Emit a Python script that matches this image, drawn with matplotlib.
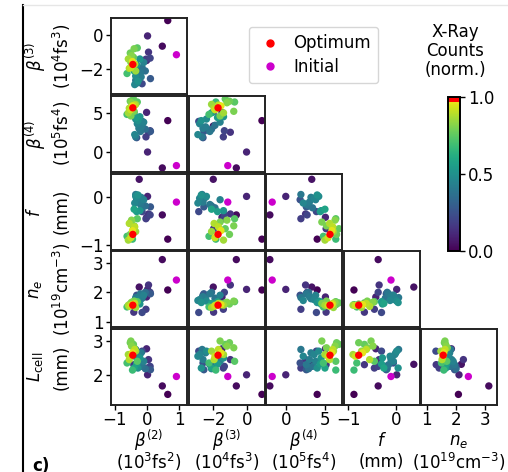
"""
Corner plot of the optimisation scan: X-ray counts over the 6 laser/target parameters
"""
import numpy as np
import matplotlib
matplotlib.use('Agg')
import matplotlib.pyplot as plt
from matplotlib.colors import ListedColormap
from matplotlib.lines import Line2D

# scanned samples (one entry per shot)
beta2 = [-0.45, -0.50, -0.38, -0.55, -0.48, -0.52, -0.40, -0.35, -0.58, -0.42, -0.30, -0.62, -0.45, -0.50,
         -0.30, -0.25, -0.35, -0.20, -0.15, -0.28, -0.10, -0.38, -0.22, -0.05, -0.32, -0.18, -0.40, -0.35,
         -0.03, -0.41, -0.32, 0.11, -0.01, 0.10, -0.15, 0.05,
         0.65, 0.48, 0.02, -0.24]
beta3 = [-1.55, -1.90, -1.70, -1.95, -1.20, -1.05, -0.80, -2.10, -1.40, -1.30, -0.75, -2.25, -1.85, -1.60,
         -2.80, -2.60, -2.40, -2.20, -1.90, -2.70, -1.60, -2.90, -1.40, -2.10, -1.75, -2.45, -2.10, -2.65,
         -1.41, -1.98, -2.60, -2.55, -1.49, -1.35, -2.85, -1.00,
         0.85, -0.65, -0.05, -2.00]
beta4 = [5.9, 5.4, 6.0, 5.6, 6.3, 6.5, 5.2, 6.1, 5.0, 6.8, 6.4, 4.8, 6.4, 4.6,
         3.6, 3.0, 4.2, 2.6, 3.4, 4.0, 3.8, 2.2, 4.5, 2.9, 4.4, 3.2, 5.0, 1.9,
         1.9, 5.15, 1.8, 2.6, 5.06, 2.7, 3.9, 2.5,
         4.0, -2.1, -0.05, 3.3]
focus = [-0.70, -0.85, -0.62, -0.55, -0.48, -0.78, -0.60, -0.72, -0.90, -0.66, -0.45, -0.82, -0.88, -0.52,
         -0.02, -0.10, 0.02, -0.15, -0.22, 0.05, -0.05, -0.12, -0.28, -0.18, -0.30, 0.00, -0.25, 0.06,
         -0.45, -0.66, -0.05, -0.20, -0.42, -0.37, -0.30, -0.35,
         -0.88, -0.37, 0.02, 0.38]
density = [1.58, 1.55, 1.62, 1.52, 1.66, 1.60, 1.70, 1.48, 1.56, 1.64, 1.68, 1.50, 1.58, 1.62,
           1.75, 1.85, 1.70, 1.95, 1.80, 1.65, 1.90, 1.72, 1.60, 2.00, 1.68, 1.78, 1.62, 1.82,
           1.42, 1.32, 1.90, 1.95, 1.84, 2.00, 1.31, 2.25,
           2.08, 3.12, 2.10, 2.18]
cell_length = [2.65, 2.55, 2.75, 2.45, 2.85, 2.95, 2.80, 2.70, 2.60, 2.90, 2.40, 2.35, 2.14, 3.00,
               2.60, 2.45, 2.70, 2.30, 2.25, 2.20, 2.40, 2.55, 2.50, 2.18, 2.32, 2.65, 2.20, 2.75,
               2.20, 2.30, 2.35, 2.15, 2.77, 2.25, 2.70, 2.45,
               1.42, 1.67, 2.00, 2.31]
counts = [0.96, 0.92, 0.90, 0.88, 0.82, 0.78, 0.80, 0.85, 0.86, 0.76, 0.74, 0.70, 0.68, 0.80,
          0.45, 0.42, 0.48, 0.40, 0.38, 0.50, 0.44, 0.46, 0.52, 0.36, 0.55, 0.42, 0.58, 0.40,
          0.18, 0.16, 0.25, 0.28, 0.10, 0.20, 0.22, 0.15,
          0.00, 0.03, 0.10, 0.05]

# best shot and starting point (beta2, beta3, beta4, f, n_e, L_cell)
optimum = [-0.44, -1.72, 5.65, -0.78, 1.56, 2.58]
initial = [0.92, -1.15, -1.8, -0.10, 2.42, 1.95]

# axis labels: symbol and unit on separate lines
symbols = [r'$\beta^{(2)}$', r'$\beta^{(3)}$', r'$\beta^{(4)}$', r'$f$', r'$n_e$', r'$L_\mathrm{cell}$']
units = [r'$(10^3\mathrm{fs}^2)$', r'$(10^4\mathrm{fs}^3)$', r'$(10^5\mathrm{fs}^4)$', '(mm)',
         r'$(10^{19}\mathrm{cm}^{-3})$', '(mm)']
limits = [(-1.12, 1.25), (-3.45, 1.0), (-2.6, 7.2), (-1.1, 0.5), (0.8, 3.4), (1.1, 3.35)]
ticks = [[-1, 0, 1], [-2, 0], [0, 5], [-1, 0], [1, 2, 3], [2, 3]]

plt.rcParams['font.size'] = 12

data = np.array([beta2, beta3, beta4, focus, density, cell_length])
c = np.array(counts)
order = np.argsort(c)

# viridis with the very top of the scale in red
base = plt.get_cmap('viridis')(np.linspace(0, 1, 256))
base[-8:] = [1, 0, 0, 1]
cmap = ListedColormap(base)

W, H = 508, 472
fig = plt.figure(figsize=(W / 100, H / 100), dpi=100)

x0, y0 = 111, 18
pitch_x, pitch_y = 77.5, 77.8
size = 76

for i in range(5):
    py = i + 1
    for j in range(i + 1):
        left = x0 + j * pitch_x
        top = y0 + i * pitch_y
        ax = fig.add_axes([left / W, 1 - (top + size) / H, size / W, size / H])
        ax.scatter(data[j][order], data[py][order], c=c[order], cmap=cmap, vmin=0, vmax=1,
                   s=28, edgecolors='none')
        ax.scatter(initial[j], initial[py], color='#cc00cc', s=28, edgecolors='none')
        ax.scatter(optimum[j], optimum[py], color='red', s=28, edgecolors='none')
        ax.set_xlim(limits[j])
        ax.set_ylim(limits[py])
        for sp in ax.spines.values():
            sp.set_linewidth(1.4)
            sp.set_color('#222222')
        if j == 0:
            ax.set_yticks(ticks[py])
        else:
            ax.set_yticks([])
        if i == 4:
            ax.set_xticks(ticks[j])
        else:
            ax.set_xticks([])
        ax.tick_params(axis='y', length=3.5, width=1, pad=2)
        ax.tick_params(axis='x', length=3.5, width=1, pad=0.5)

# row labels (left) and column labels (bottom)
for i in range(5):
    cy = 1 - (y0 + i * pitch_y + size / 2) / H
    fig.text(35 / W, cy, symbols[i + 1], rotation=90, ha='center', va='center')
    fig.text(62 / W, cy, units[i + 1], rotation=90, ha='center', va='center')
for j in range(5):
    cx = (x0 + j * pitch_x + size / 2) / W
    fig.text(cx, 1 - 440.5 / H, symbols[j], ha='center', va='center')
    fig.text(cx, 1 - 462 / H, units[j], ha='center', va='center')

# colorbar
cax = fig.add_axes([448 / W, 1 - 251 / H, 12 / W, 154 / H])
sm = plt.cm.ScalarMappable(cmap=cmap, norm=plt.Normalize(0, 1))
cb = fig.colorbar(sm, cax=cax, ticks=[0, 0.5, 1.0])
cb.ax.set_yticklabels(['0.0', '0.5', '1.0'])
cb.outline.set_linewidth(1.4)
cb.ax.tick_params(length=3.5, width=1, pad=2)
fig.text(455 / W, 1 - 51 / H, 'X-Ray\nCounts\n(norm.)', ha='center', va='center',
         multialignment='center', linespacing=1.05)

# legend
handles = [Line2D([], [], marker='o', color='red', linestyle='none', markersize=5),
           Line2D([], [], marker='o', color='#cc00cc', linestyle='none', markersize=5)]
fig.legend(handles, ['Optimum', 'Initial'], loc='upper left',
           bbox_to_anchor=(249 / W, 1 - 27 / H), borderaxespad=0, handletextpad=0.6,
           borderpad=0.45, labelspacing=0.3, handlelength=1.6)

# panel frame and label
fig.add_artist(Line2D([23 / W, 23 / W], [0, 1 - 5 / H], color='black', lw=1.5))
fig.add_artist(Line2D([23 / W, 1], [1 - 5 / H, 1 - 5 / H], color='#e6e6e6', lw=1))
fig.text(32 / W, 1 - 466 / H, 'c)', fontweight='bold', ha='left', va='center')

fig.savefig('out.png', dpi=100)
plt.close()
